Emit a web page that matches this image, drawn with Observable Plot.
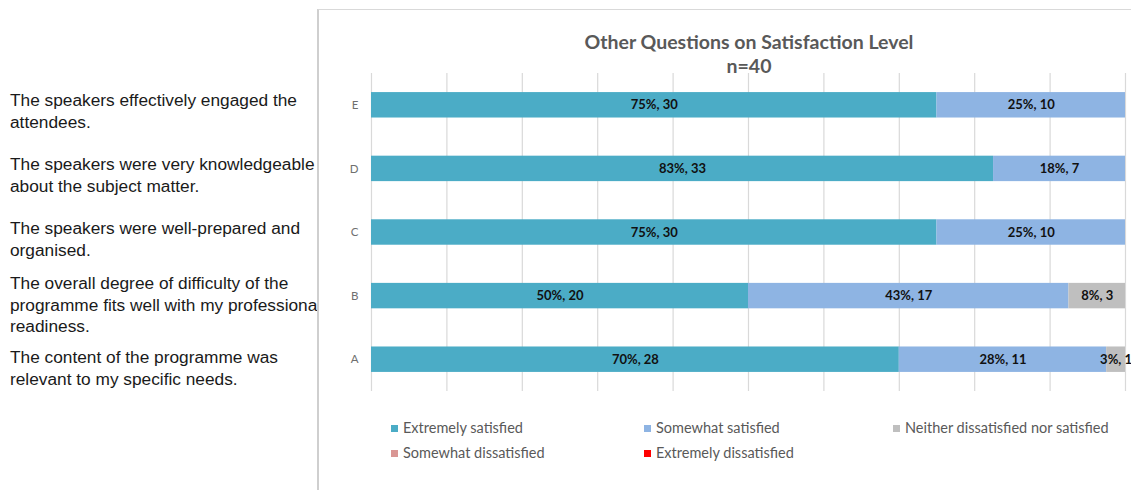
<!DOCTYPE html>
<html>
<head>
<meta charset="utf-8">
<script src="https://cdn.jsdelivr.net/npm/d3@7"></script>
<script src="https://cdn.jsdelivr.net/npm/@observablehq/plot@0.6"></script>
<style>
  html, body { margin:0; padding:0; background:#fff; }
  body { width:1131px; height:490px; position:relative; overflow:hidden; }
  #left { position:absolute; left:0; top:0; width:317px; height:490px; overflow:hidden;
          font-family:"Liberation Sans", Arial, sans-serif; font-size:17.3px; color:#1a1a1a; }
  #left .q { position:absolute; left:10px; white-space:nowrap; line-height:21.5px; }
  #box { position:absolute; left:317px; top:9px; width:820px; height:490px;
         border-left:2px solid #cfcfcf; border-top:1px solid #d9d9d9; }
  #title { position:absolute; left:318px; width:862px; top:30px; text-align:center;
           font-family:Lato, "Open Sans", sans-serif; font-weight:bold; font-size:19.5px; color:#595959; line-height:24px; }
  #title div { width:100%; }
  #chart { position:absolute; left:318px; top:73px; }
  .leg { position:absolute; font-family:Lato, "Open Sans", sans-serif; font-size:14.5px; color:#595959; white-space:nowrap; line-height:16px; }
  .leg span.sw { display:inline-block; width:7px; height:7px; margin-right:5px; vertical-align:1px; }
</style>
</head>
<body>
<div id="left"></div>
<div id="box"></div>
<div id="title"><div>Other Questions on Satisfaction Level</div><div>n=40</div></div>
<div id="chart"></div>
<div id="legend"></div>
<script>
// ---- data ----
const questionCodes = ["A", "B", "C", "D", "E"];
const questionTexts = [
  ["The content of the programme was", "relevant to my specific needs."],
  ["The overall degree of difficulty of the", "programme fits well with my professional", "readiness."],
  ["The speakers were well-prepared and", "organised."],
  ["The speakers were very knowledgeable", "about the subject matter."],
  ["The speakers effectively engaged the", "attendees."]
];
const categories = ["Extremely satisfied", "Somewhat satisfied", "Neither dissatisfied nor satisfied", "Somewhat dissatisfied", "Extremely dissatisfied"];
const colors = ["#4BACC6", "#8EB4E3", "#BFBFBF", "#D99694", "#FF0000"];
const extremelySatisfied   = [28, 20, 30, 33, 30];
const somewhatSatisfied    = [11, 17, 10, 7, 10];
const neitherSatisfied     = [1, 3, 0, 0, 0];
const somewhatDissatisfied = [0, 0, 0, 0, 0];
const extremelyDissatisfied= [0, 0, 0, 0, 0];
const respondents = 40;
const xTicks = [0, 4, 8, 12, 16, 20, 24, 28, 32, 36, 40];

const series = [extremelySatisfied, somewhatSatisfied, neitherSatisfied, somewhatDissatisfied, extremelyDissatisfied];
const rows = [];
questionCodes.forEach((q, i) => {
  categories.forEach((c, j) => rows.push({q, cat: c, count: series[j][i]}));
});
const label = d => `${Math.round(d.count * 100 / respondents)}%, ${d.count}`;

// ---- left question texts ----
const leftTops = [347, 273, 218, 154, 90];
const left = document.getElementById("left");
questionTexts.forEach((lines, i) => {
  const el = document.createElement("div");
  el.className = "q";
  el.style.top = leftTops[i] + "px";
  el.innerHTML = lines.join("<br>");
  left.appendChild(el);
});

// ---- chart ----
const chart = Plot.plot({
  width: 813,
  height: 318,
  marginTop: 0,
  marginBottom: 0,
  marginLeft: 53,
  marginRight: 6,
  style: {fontFamily: "Lato, 'Open Sans', sans-serif", fontSize: "11px", color: "#595959", background: "transparent", overflow: "visible"},
  x: {domain: [0, respondents], axis: null},
  y: {domain: questionCodes.slice().reverse(), paddingInner: 0.6, paddingOuter: 0.3, round: false, label: null, axis: null},
  color: {domain: categories, range: colors},
  marks: [
    Plot.ruleX(xTicks, {stroke: "#d9d9d9", strokeWidth: 1.2}),
    Plot.axisY({tickSize: 0, tickPadding: 13, fill: "#6f6f6f", fontSize: 11.5, label: null}),
    Plot.barX(rows, Plot.stackX({y: "q", x: "count", fill: "cat", z: "cat", order: categories})),
    Plot.textX(rows.filter(d => d.count > 0), Plot.stackX({
      y: "q", x: "count", z: "cat", order: categories, text: label,
      fill: "#111", fontWeight: "bold", fontSize: 13,
      fontFamily: "Lato, sans-serif"
    }))
  ]
});
document.getElementById("chart").appendChild(chart);

// ---- legend ----
const legPos = [[391, 420], [644, 420], [893, 420], [391, 445], [644, 445]];
const legend = document.getElementById("legend");
categories.forEach((c, i) => {
  const el = document.createElement("div");
  el.className = "leg";
  el.style.left = legPos[i][0] + "px";
  el.style.top = legPos[i][1] + "px";
  el.innerHTML = `<span class="sw" style="background:${colors[i]}"></span>${c}`;
  legend.appendChild(el);
});
</script>
</body>
</html>
